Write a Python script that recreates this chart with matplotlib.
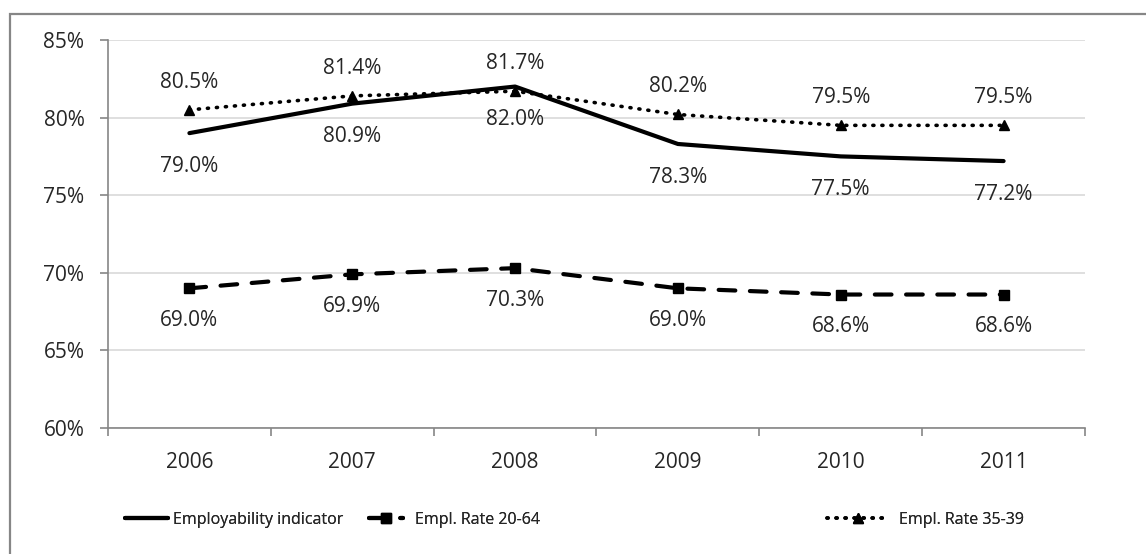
import matplotlib
matplotlib.use('Agg')
import matplotlib.pyplot as plt
from matplotlib.patches import Rectangle
from matplotlib import font_manager

plt.rcParams['font.family'] = ['Open Sans', 'DejaVu Sans']

years = ['2006', '2007', '2008', '2009', '2010', '2011']
employability = [79.0, 80.9, 82.0, 78.3, 77.5, 77.2]
rate_20_64 = [69.0, 69.9, 70.3, 69.0, 68.6, 68.6]
rate_35_39 = [80.5, 81.4, 81.7, 80.2, 79.5, 79.5]
series_names = ['Employability indicator', 'Empl. Rate 20-64', 'Empl. Rate 35-39']
y_ticks = [60, 65, 70, 75, 80, 85]

TEXT = '#262626'
AXIS = '#868686'
GRID = '#d9d9d9'

# the legend in the original uses a narrow face
names = set(f.name for f in font_manager.fontManager.ttflist)
if 'Liberation Sans Narrow' in names:
    legend_font = {'family': 'Liberation Sans Narrow', 'size': 13}
else:
    legend_font = {'family': 'Open Sans', 'size': 11.5}

fig = plt.figure(figsize=(11.46, 5.54), dpi=100)
ax = fig.add_axes([108 / 1146, 1 - 428 / 554, (1085 - 108) / 1146, (428 - 40) / 554])

# outer chart border (cropped on right and bottom)
fig.add_artist(Rectangle((10 / 1146, -0.1), 1.2, 1 - 14 / 554 + 0.1, transform=fig.transFigure,
                         fill=False, edgecolor=AXIS, linewidth=1.6))

x = list(range(len(years)))

l1, = ax.plot(x, employability, color='black', lw=3.0, solid_capstyle='round', solid_joinstyle='round')
l2, = ax.plot(x, rate_20_64, color='black', lw=3.0, marker='s', markersize=7,
              linestyle=(0, (4, 3.5)), dash_capstyle='round')
l3, = ax.plot(x, rate_35_39, color='black', lw=2.6, marker='^', markersize=7.5,
              linestyle=(0, (0.3, 2.2)), dash_capstyle='round')

# data labels
for i in x:
    ax.annotate('%.1f%%' % employability[i], (i, employability[i]), xytext=(0, -24),
                textcoords='offset points', ha='center', va='center', fontsize=15, color=TEXT)
    ax.annotate('%.1f%%' % rate_20_64[i], (i, rate_20_64[i]), xytext=(0, -23),
                textcoords='offset points', ha='center', va='center', fontsize=15, color=TEXT)
    ax.annotate('%.1f%%' % rate_35_39[i], (i, rate_35_39[i]), xytext=(0, 20),
                textcoords='offset points', ha='center', va='center', fontsize=15, color=TEXT)

ax.set_xlim(-0.5, len(years) - 0.5)
ax.set_ylim(60, 85)
ax.set_yticks(y_ticks)
ax.set_yticklabels(['%d%%' % t for t in y_ticks])
ax.set_xticks(x)
ax.set_xticklabels(years)
ax.set_xticks([i - 0.5 for i in range(len(years) + 1)], minor=True)
ax.tick_params(axis='x', which='major', length=0, pad=17, labelsize=15, labelcolor=TEXT)
ax.tick_params(axis='x', which='minor', length=6, color=AXIS, width=1.2)
ax.tick_params(axis='y', length=6, color=AXIS, width=1.2, pad=11, labelsize=15, labelcolor=TEXT)

ax.grid(axis='y', color=GRID, lw=1.2)
ax.set_axisbelow(True)
for s in ['top', 'right']:
    ax.spines[s].set_visible(False)
for s in ['left', 'bottom']:
    ax.spines[s].set_color(AXIS)
    ax.spines[s].set_linewidth(1.2)

# legend entries placed like the original
handles = [l1, l2, l3]
legend_x = [125, 369, 827]
hlen_px = [43, 34, 61]
gap_px = [5, 12, 11]
em_px = legend_font['size'] * 100 / 72.0
for h, name, lx, hl, gp in zip(handles, series_names, legend_x, hlen_px, gap_px):
    lg = fig.legend([h], [name], loc='center left', bbox_to_anchor=(lx / 1146, 1 - 520 / 554),
                    frameon=False, prop=legend_font, handlelength=hl / em_px,
                    handletextpad=gp / em_px, borderaxespad=0, borderpad=0, labelcolor=TEXT)
    fig.add_artist(lg)

fig.savefig('out.png', dpi=100)
